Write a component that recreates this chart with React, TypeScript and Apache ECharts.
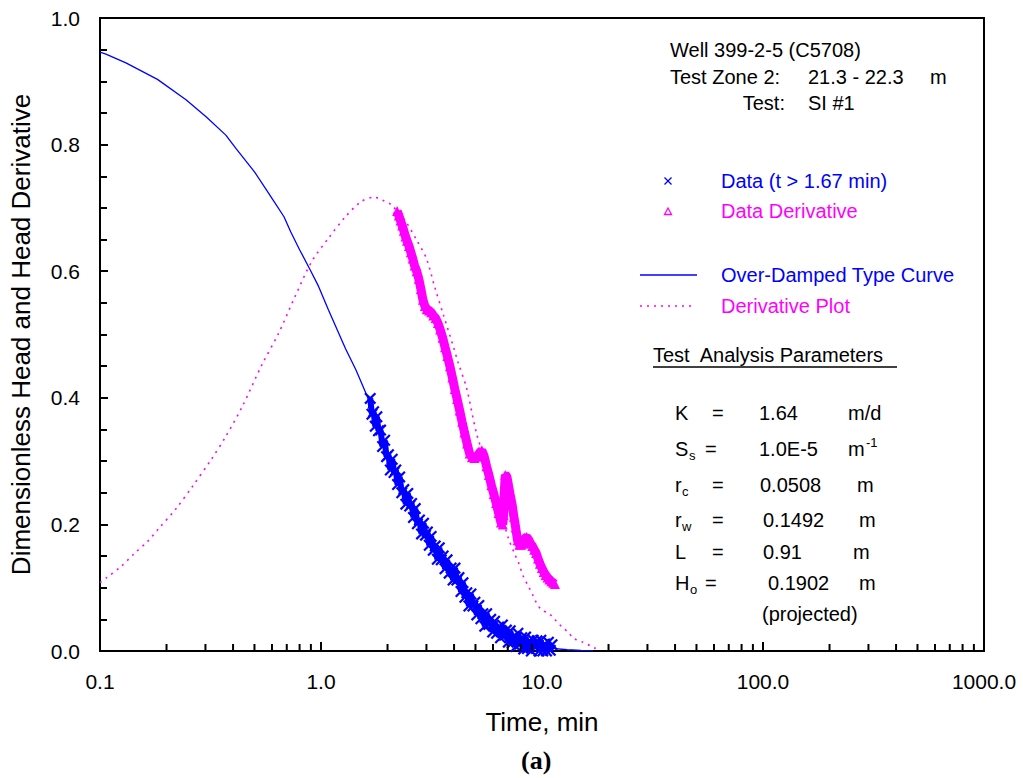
import React, { useEffect, useRef } from "react";
import * as echarts from "echarts";

// ---- Axis tick labels ----
const xTickLabels = ["0.1", "1.0", "10.0", "100.0", "1000.0"];
const yTickLabels = ["0.0", "0.2", "0.4", "0.6", "0.8", "1.0"];
const xMinorMultipliers = [2, 3, 4, 5, 6, 7, 8, 9];
const xDecades = [0.1, 1, 10, 100];

// ---- Over-damped type curve (solid blue) ----
const typeCurveT = [0.1, 0.1064, 0.131, 0.182, 0.245, 0.302, 0.371, 0.412, 0.5, 0.58, 0.68, 0.73, 0.8, 0.894, 0.975, 1.08, 1.29, 1.44, 1.62, 1.8, 2.06, 2.45, 2.91, 3.46, 4.11, 4.89, 5.8, 6.9, 8.2, 9.7, 11.2, 13.0, 15.0, 17.0];
const typeCurveH = [0.946, 0.943, 0.929, 0.903, 0.871, 0.844, 0.815, 0.794, 0.757, 0.723, 0.686, 0.662, 0.634, 0.602, 0.576, 0.539, 0.478, 0.444, 0.402, 0.36, 0.297, 0.239, 0.19, 0.149, 0.114, 0.08, 0.05, 0.03, 0.016, 0.008, 0.004, 0.002, 0.001, 0.0005];

// ---- Derivative plot (dotted magenta) ----
const derivCurveT = [0.1, 0.1064, 0.124, 0.143, 0.164, 0.185, 0.221, 0.262, 0.318, 0.371, 0.44, 0.54, 0.643, 0.763, 0.907, 1.08, 1.29, 1.52, 1.74, 1.9, 2.06, 2.4, 2.71, 3.0, 3.27, 3.58, 3.97, 4.18, 4.56, 5.07, 5.8, 6.47, 7.05, 7.55, 7.82, 8.25, 8.69, 9.1, 9.44, 9.9, 10.85, 11.5, 12.3, 13.1, 13.9, 15.3, 16.6, 17.5];
const derivCurveD = [0.108, 0.115, 0.133, 0.154, 0.173, 0.194, 0.225, 0.26, 0.302, 0.339, 0.386, 0.452, 0.502, 0.56, 0.615, 0.652, 0.686, 0.71, 0.717, 0.712, 0.706, 0.68, 0.649, 0.62, 0.575, 0.531, 0.481, 0.455, 0.415, 0.342, 0.28, 0.223, 0.178, 0.152, 0.14, 0.117, 0.102, 0.088, 0.076, 0.066, 0.058, 0.049, 0.038, 0.03, 0.02, 0.014, 0.008, 0.004];

// ---- Measured head data, t > 1.67 min (blue x) ----
const dataT = [1.67, 1.7, 1.73, 1.76, 1.79, 1.82, 1.86, 1.9, 1.94, 1.98, 2.02, 2.06, 2.1, 2.14, 2.18, 2.22, 2.27, 2.32, 2.37, 2.42, 2.47, 2.52, 2.57, 2.62, 2.67, 2.73, 2.79, 2.85, 2.91, 2.97, 3.03, 3.09, 3.15, 3.22, 3.29, 3.36, 3.43, 3.5, 3.57, 3.64, 3.72, 3.8, 3.88, 3.96, 4.04, 4.12, 4.21, 4.3, 4.39, 4.48, 4.57, 4.67, 4.77, 4.87, 4.97, 5.07, 5.18, 5.29, 5.4, 5.51, 5.62, 5.74, 5.86, 5.98, 6.1, 6.23, 6.36, 6.49, 6.62, 6.76, 6.9, 7.04, 7.18, 7.33, 7.48, 7.63, 7.78, 7.94, 8.1, 8.26, 8.43, 8.6, 8.77, 8.95, 9.13, 9.31, 9.5, 9.69, 9.88, 10.08, 10.28, 10.48, 10.69, 10.9, 11.1];
const dataH = [0.399, 0.374, 0.378, 0.355, 0.37, 0.348, 0.349, 0.323, 0.333, 0.307, 0.31, 0.286, 0.303, 0.282, 0.286, 0.263, 0.275, 0.25, 0.255, 0.232, 0.249, 0.229, 0.233, 0.211, 0.225, 0.201, 0.207, 0.185, 0.202, 0.183, 0.188, 0.167, 0.181, 0.159, 0.166, 0.145, 0.163, 0.144, 0.15, 0.13, 0.144, 0.123, 0.131, 0.112, 0.131, 0.112, 0.116, 0.094, 0.108, 0.085, 0.092, 0.071, 0.09, 0.071, 0.077, 0.057, 0.072, 0.051, 0.059, 0.039, 0.059, 0.042, 0.05, 0.03, 0.047, 0.028, 0.038, 0.021, 0.041, 0.025, 0.033, 0.014, 0.032, 0.013, 0.023, 0.007, 0.028, 0.011, 0.021, 0.003, 0.022, 0.004, 0.016, 0.0, 0.017, 0.007, 0.016, 0.0, 0.017, 0.0, 0.011, 0.0, 0.014, 0.001, 0.01];

// ---- Data derivative (magenta triangles) ----
const dDataT = [2.21, 2.25, 2.29, 2.33, 2.37, 2.41, 2.45, 2.5, 2.55, 2.6, 2.65, 2.71, 2.77, 2.83, 2.89, 2.95, 3.01, 3.08, 3.15, 3.22, 3.3, 3.38, 3.46, 3.55, 3.64, 3.73, 3.83, 3.93, 4.03, 4.13, 4.24, 4.35, 4.46, 4.58, 4.7, 4.82, 4.95, 5.08, 5.21, 5.34, 5.47, 5.61, 5.75, 5.9, 6.05, 6.2, 6.36, 6.52, 6.65, 6.7, 6.73, 6.76, 6.82, 6.93, 7.05, 7.18, 7.32, 7.46, 7.6, 7.75, 7.9, 8.05, 8.2, 8.36, 8.52, 8.69, 8.86, 9.04, 9.22, 9.4, 9.59, 9.78, 9.98, 10.18, 10.38, 10.59, 10.8, 11.01, 11.23, 11.45];
const dDataD = [0.695, 0.688, 0.68, 0.672, 0.664, 0.655, 0.648, 0.64, 0.63, 0.62, 0.609, 0.6, 0.588, 0.572, 0.555, 0.545, 0.54, 0.538, 0.535, 0.53, 0.526, 0.518, 0.508, 0.495, 0.48, 0.466, 0.45, 0.432, 0.414, 0.398, 0.38, 0.362, 0.345, 0.328, 0.312, 0.306, 0.305, 0.307, 0.313, 0.317, 0.308, 0.292, 0.278, 0.262, 0.248, 0.234, 0.218, 0.203, 0.2, 0.215, 0.235, 0.255, 0.278, 0.276, 0.262, 0.246, 0.232, 0.212, 0.195, 0.175, 0.168, 0.168, 0.17, 0.178, 0.18, 0.176, 0.17, 0.166, 0.16, 0.155, 0.146, 0.138, 0.131, 0.125, 0.12, 0.116, 0.113, 0.11, 0.108, 0.106];

// ---- Annotation texts ----
const wellTitle = "Well 399-2-5 (C5708)";
const zoneLabel = "Test Zone 2:";
const zoneValue = "21.3 - 22.3";
const zoneUnit = "m";
const testLabel = "Test:";
const testValue = "SI #1";
const legendNames = ["Data (t > 1.67 min)", "Data Derivative", "Over-Damped Type Curve", "Derivative Plot"];
const paramTitle = "Test  Analysis Parameters";
const paramSymbols = ["K", "S", "r", "r", "L", "H"];
const paramSubs = ["", "s", "c", "w", "", "o"];
const paramValues = ["1.64", "1.0E-5", "0.0508", "0.1492", "0.91", "0.1902"];
const paramUnits = ["m/d", "m", "m", "m", "m", "m"];
const projectedNote = "(projected)";
const panelLabel = "(a)";

const BLUE = "#0000FF";
const MAGENTA = "#FF00FF";
const TICK = "#000000";
const FONT = "'Liberation Sans', Arial, sans-serif";

const xPath = "path://M0,1.3L1.3,0L5,3.7L8.7,0L10,1.3L6.3,5L10,8.7L8.7,10L5,6.3L1.3,10L0,8.7L3.7,5Z";

function txt(x: number, y: number, text: string, opts: any = {}) {
  return {
    type: "text",
    x,
    y,
    silent: true,
    style: {
      text,
      fill: opts.fill || "#000",
      font: `${opts.bold ? "bold " : ""}${opts.size || 20}px ${opts.family || FONT}`,
      align: opts.align || "left",
      verticalAlign: "middle",
    },
  };
}

export default function App() {
  const ref = useRef<HTMLDivElement>(null);
  useEffect(() => {
    if (!ref.current) return;
    const chart = echarts.init(ref.current, undefined, { renderer: "svg" });

    const minorTicks: number[] = [];
    xDecades.forEach((d) => xMinorMultipliers.forEach((m) => minorTicks.push(d * m)));

    const rowY = [413, 449, 485, 520, 552, 583];
    const subX = [0, 689, 682, 682, 0, 690];
    const eqX = [712, 705, 712, 712, 712, 705];
    const valX = [759, 759, 760, 763, 763, 768];
    const unitX = [848, 848, 857, 859, 853, 859];

    const graphics: any[] = [
      txt(670, 50, wellTitle),
      txt(670, 77, zoneLabel),
      txt(808, 77, zoneValue),
      txt(930, 77, zoneUnit),
      txt(785, 103, testLabel, { align: "right" }),
      txt(808, 103, testValue),
      { type: "line", silent: true, shape: { x1: 664.5, y1: 177.5, x2: 671.5, y2: 184.5 }, style: { stroke: BLUE, lineWidth: 1.3 } },
      { type: "line", silent: true, shape: { x1: 671.5, y1: 177.5, x2: 664.5, y2: 184.5 }, style: { stroke: BLUE, lineWidth: 1.3 } },
      txt(721, 181, legendNames[0], { fill: BLUE }),
      { type: "polygon", silent: true, shape: { points: [[664.5, 214.5], [671.5, 214.5], [668, 208]] }, style: { fill: "none", stroke: MAGENTA, lineWidth: 1.3 } },
      txt(721, 211, legendNames[1], { fill: MAGENTA }),
      { type: "line", silent: true, shape: { x1: 640, y1: 275, x2: 697, y2: 275 }, style: { stroke: BLUE, lineWidth: 1.3 } },
      txt(721, 275, legendNames[2], { fill: BLUE }),
      { type: "line", silent: true, shape: { x1: 640, y1: 306, x2: 695, y2: 306 }, style: { stroke: MAGENTA, lineWidth: 1.5, lineDash: [2, 5] } },
      txt(721, 306, legendNames[3], { fill: MAGENTA }),
      txt(653, 355, paramTitle),
      { type: "line", silent: true, shape: { x1: 653, y1: 367, x2: 897, y2: 367 }, style: { stroke: "#000", lineWidth: 1.3 } },
      txt(866, 442, "-1", { size: 13 }),
      txt(762, 614, projectedNote),
      txt(521, 760, panelLabel, { bold: true, size: 26, family: "'Liberation Serif', 'Times New Roman', serif" }),
    ];
    rowY.forEach((y, i) => {
      graphics.push(txt(675, y, paramSymbols[i]));
      if (paramSubs[i]) graphics.push(txt(subX[i], y + 6, paramSubs[i], { size: 13 }));
      graphics.push(txt(eqX[i], y, "="));
      graphics.push(txt(valX[i], y, paramValues[i]));
      graphics.push(txt(unitX[i], y, paramUnits[i]));
    });

    const option: any = {
      animation: false,
      grid: { left: 99, right: 39, top: 18, bottom: 127, show: true, borderColor: "#000", borderWidth: 2, backgroundColor: "rgba(0,0,0,0)" },
      xAxis: {
        type: "log",
        logBase: 10,
        min: 0.1,
        max: 1000,
        name: "Time, min",
        nameLocation: "middle",
        nameGap: 58,
        nameTextStyle: { fontSize: 26, color: "#000", fontFamily: FONT },
        axisLine: { show: true, lineStyle: { color: "#000", width: 2 } },
        axisTick: { show: true, inside: true, length: 9, lineStyle: { color: TICK, width: 2 } },
        axisLabel: {
          fontSize: 21,
          color: "#000",
          margin: 20,
          fontFamily: FONT,
          formatter: (v: number) => xTickLabels[Math.round(Math.log10(v)) + 1] ?? "",
        },
        splitLine: { show: false },
      },
      yAxis: {
        type: "value",
        min: 0,
        max: 1,
        interval: 0.2,
        name: "Dimensionless Head and Head Derivative",
        nameLocation: "middle",
        nameGap: 66,
        nameTextStyle: { fontSize: 26, color: "#000", fontFamily: FONT },
        axisLine: { show: true, lineStyle: { color: "#000", width: 2 } },
        axisTick: { show: true, inside: true, length: 8, lineStyle: { color: TICK, width: 2 } },
        minorTick: { show: true, splitNumber: 4, length: 7, lineStyle: { color: TICK, width: 2 } },
        axisLabel: {
          fontSize: 21,
          color: "#000",
          margin: 20,
          fontFamily: FONT,
          formatter: (v: number) => yTickLabels[Math.round(v * 5)] ?? "",
        },
        splitLine: { show: false },
      },
      series: [
        {
          name: legendNames[2],
          type: "line",
          data: typeCurveT.map((t, i) => [t, typeCurveH[i]]),
          showSymbol: false,
          symbol: "none",
          lineStyle: { color: BLUE, width: 1.3 },
        },
        {
          name: legendNames[3],
          type: "line",
          data: derivCurveT.map((t, i) => [t, derivCurveD[i]]),
          showSymbol: false,
          symbol: "none",
          smooth: 0.3,
          lineStyle: { color: MAGENTA, width: 1.6, type: [2, 5] },
        },
        {
          name: legendNames[0],
          type: "line",
          data: dataT.map((t, i) => [t, dataH[i]]),
          showSymbol: true,
          symbol: xPath,
          symbolSize: 12,
          itemStyle: { color: BLUE, borderWidth: 0 },
          lineStyle: { color: BLUE, width: 6 },
        },
        {
          name: legendNames[1],
          type: "line",
          data: dDataT.map((t, i) => [t, dDataD[i]]),
          showSymbol: true,
          symbol: "triangle",
          symbolSize: 10,
          itemStyle: { color: MAGENTA, borderWidth: 0 },
          lineStyle: { color: MAGENTA, width: 9 },
        },
        {
          name: "minor-x-ticks",
          type: "custom",
          data: minorTicks.map((t) => [t, 0]),
          z: 10,
          renderItem: (_params: any, api: any) => {
            const p = api.coord([api.value(0), api.value(1)]);
            return {
              type: "line",
              shape: { x1: p[0], y1: p[1], x2: p[0], y2: p[1] - 7 },
              style: { stroke: TICK, lineWidth: 2 },
            };
          },
        },
      ],
      graphic: graphics,
    };
    chart.setOption(option);
    return () => chart.dispose();
  }, []);

  return (
    <div
      ref={ref}
      style={{ position: "fixed", left: 0, top: 0, width: 1023, height: 778, background: "#fff" }}
    />
  );
}
